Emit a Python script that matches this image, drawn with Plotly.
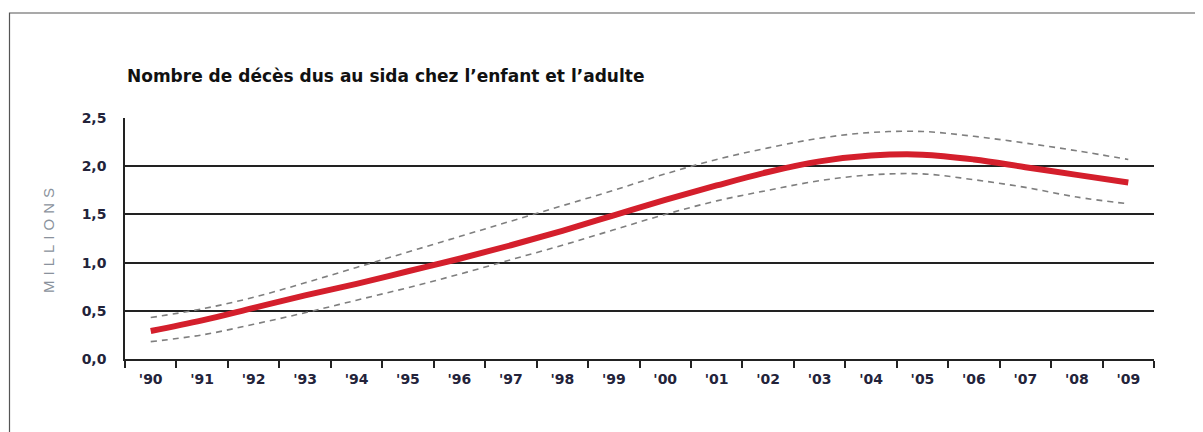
import plotly.graph_objects as go

years = ["'90", "'91", "'92", "'93", "'94", "'95", "'96", "'97", "'98", "'99",
         "'00", "'01", "'02", "'03", "'04", "'05", "'06", "'07", "'08", "'09"]

# deaths (millions): estimate, upper and lower bounds
deaths = [0.29, 0.40, 0.53, 0.66, 0.78, 0.91, 1.04, 1.18, 1.33, 1.49,
          1.65, 1.80, 1.94, 2.05, 2.11, 2.12, 2.07, 1.99, 1.91, 1.83]
upper = [0.43, 0.52, 0.64, 0.79, 0.95, 1.11, 1.27, 1.43, 1.59, 1.75,
         1.92, 2.07, 2.19, 2.29, 2.35, 2.36, 2.31, 2.24, 2.16, 2.07]
lower = [0.18, 0.25, 0.36, 0.48, 0.61, 0.74, 0.88, 1.03, 1.18, 1.34,
         1.50, 1.64, 1.75, 1.85, 1.91, 1.92, 1.86, 1.78, 1.68, 1.61]

y_ticks = [0, 0.5, 1.0, 1.5, 2.0, 2.5]

fig = go.Figure()

for band in (upper, lower):
    fig.add_trace(go.Scatter(
        x=years, y=band, mode="lines", line_shape="spline",
        line=dict(color="#7f7f7f", width=1.6, dash="6px,5px"),
        hoverinfo="skip"))

fig.add_trace(go.Scatter(
    x=years, y=deaths, mode="lines", line_shape="spline",
    line=dict(color="#d41f2c", width=6)))

# page body adds an 8px offset, margins compensate
fig.update_layout(
    width=1203, height=432,
    margin=dict(l=117, r=57, t=110, b=81),
    paper_bgcolor="white", plot_bgcolor="white",
    showlegend=False,
    separators=", ",
    font=dict(family="DejaVu Sans, sans-serif", color="#222"),
)

fig.update_xaxes(
    type="category", range=[-0.5, 19.5], showgrid=False,
    showline=True, linecolor="#222", linewidth=1.5,
    ticks="outside", tickson="boundaries", ticklen=7, tickwidth=1.5, tickcolor="#222",
    ticklabelstandoff=6,
    tickfont=dict(size=14, color="#23233a", weight="bold"),
)

fig.update_yaxes(
    range=[0, 2.5], tickvals=y_ticks, tickformat=".1f",
    showgrid=True, gridcolor="#222", gridwidth=1.8,
    showline=True, linecolor="#222", linewidth=1.5,
    zeroline=False, ticks="", ticklabelstandoff=14,
    tickfont=dict(size=14, color="#23233a", weight="bold"),
)

# title
fig.add_annotation(
    text="Nombre de décès dus au sida chez l’enfant et l’adulte",
    xref="paper", yref="paper", x=0, y=(359 - 76) / 241,
    xanchor="left", yanchor="middle", showarrow=False,
    font=dict(size=17, color="#111", weight="bold"))

# rotated axis label
fig.add_annotation(
    text="\u2004".join("MILLIONS"),
    xref="paper", yref="paper", x=(48 - 125) / 1029, y=(359 - 241) / 241,
    xanchor="center", yanchor="middle", showarrow=False, textangle=-90,
    font=dict(family="Liberation Sans, Arial, sans-serif", size=15, color="#8a929c"))

# outer frame
fig.add_shape(type="rect", xref="paper", yref="paper",
              x0=(9.5 - 125) / 1029, x1=1.2, y0=-0.6, y1=(359 - 13) / 241,
              line=dict(color="#555", width=1.2), layer="below")

fig.write_html("out.html")
